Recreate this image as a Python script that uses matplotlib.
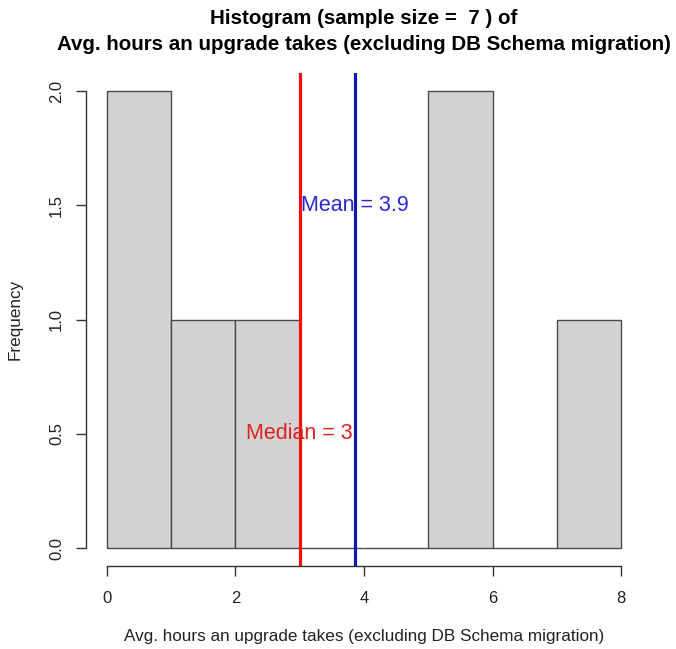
import numpy as np
import matplotlib
matplotlib.use("Agg")
import matplotlib.pyplot as plt

plt.rcParams['font.family'] = ['Liberation Sans', 'DejaVu Sans']

# Data
bin_edges = [0, 1, 2, 3, 4, 5, 6, 7, 8]
counts = [2, 1, 1, 0, 0, 2, 0, 1]
mean_val = 3.857
median_val = 3
sample_size = 7
x_ticks = [0, 2, 4, 6, 8]
y_ticks = [0.0, 0.5, 1.0, 1.5, 2.0]

W, H = 676, 649
fig = plt.figure(figsize=(W / 100, H / 100), dpi=100)

# plot region in pixels (R style, 4% padding around data range)
left, right, top, bottom = 86.4, 641.6, 72.7, 566.3
ax = fig.add_axes([left / W, 1 - bottom / H, (right - left) / W, (bottom - top) / H])
ax.set_xlim(-0.32, 8.32)
ax.set_ylim(-0.08, 2.08)

edges = np.array(bin_edges)
ax.bar(edges[:-1], counts, width=np.diff(edges), align='edge',
       color='#d3d3d3', edgecolor='#4a4a4a', linewidth=1.0, zorder=1)

ax.axvline(median_val, color='#ee1111', linewidth=2.3, zorder=2)
ax.axvline(mean_val, color='#1515b0', linewidth=2.3, zorder=4)

ax.text(mean_val, 1.5, 'Mean = %.1f' % mean_val, color='#2a2ad0',
        fontsize=15.5, ha='center', va='center', zorder=3)
ax.text(median_val, 0.5, 'Median = %g' % median_val, color='#e02020',
        fontsize=15.5, ha='center', va='center', zorder=3)

for s in ['top', 'right']:
    ax.spines[s].set_visible(False)
ax.spines['left'].set_bounds(0, 2)
ax.spines['bottom'].set_bounds(0, 8)
for s in ['left', 'bottom']:
    ax.spines[s].set_color('#333333')
    ax.spines[s].set_linewidth(1.0)

ax.set_xticks(x_ticks)
ax.set_yticks(y_ticks)
ax.set_yticklabels(['%.1f' % v for v in y_ticks], rotation=90, va='center')
ax.tick_params(axis='both', length=7, width=1.0, color='#333333',
               labelsize=12, labelcolor='#222222')
ax.tick_params(axis='x', pad=11)
ax.tick_params(axis='y', pad=9)

fig.text(364 / W, 1 - 18 / H, 'Histogram (sample size =  %d ) of' % sample_size,
         ha='center', va='center', fontsize=14.8, fontweight='bold')
fig.text(364 / W, 1 - 44 / H,
         'Avg. hours an upgrade takes (excluding DB Schema migration)',
         ha='center', va='center', fontsize=14.8, fontweight='bold')
fig.text(364 / W, 1 - 636 / H,
         'Avg. hours an upgrade takes (excluding DB Schema migration)',
         ha='center', va='center', fontsize=12.3, color='#222222')
fig.text(15 / W, 1 - 319 / H, 'Frequency', rotation=90,
         ha='center', va='center', fontsize=12.3, color='#222222')

fig.savefig('out.png', dpi=100, facecolor='white')
